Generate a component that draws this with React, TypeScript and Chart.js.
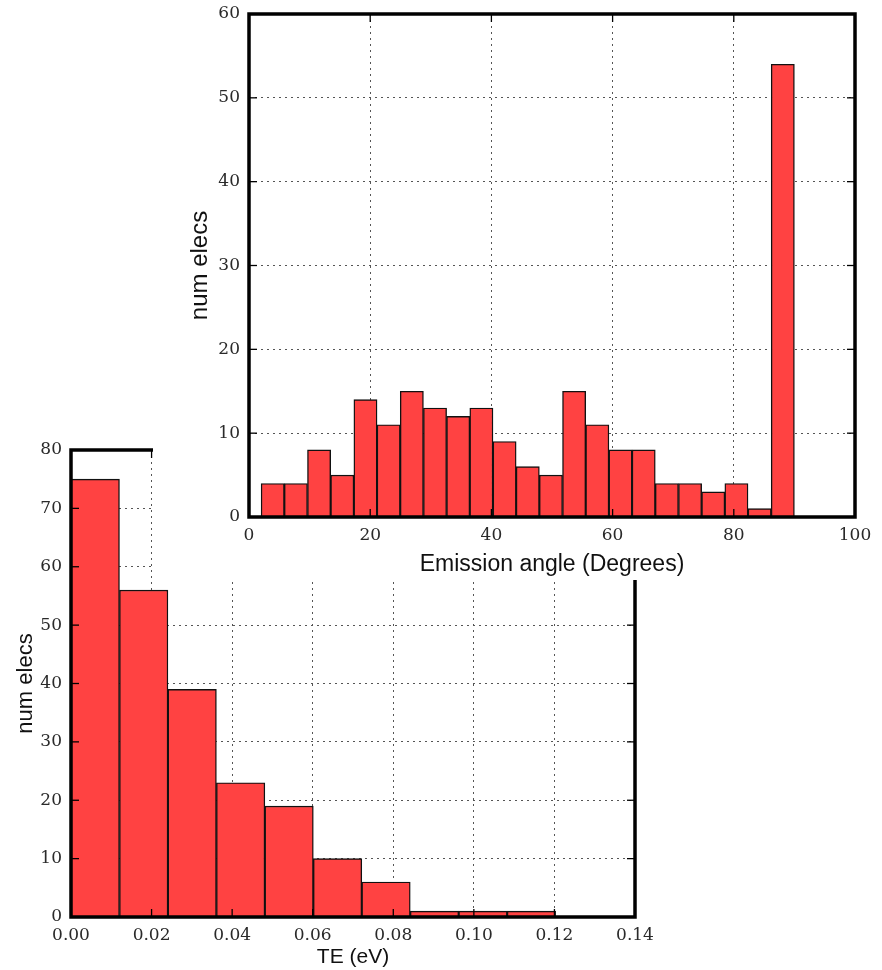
import React, { useEffect, useRef } from "react";
import { Chart, registerables } from "chart.js";

Chart.register(...registerables);

// ---- Emission angle histogram (top chart) ----
const angleBinStart = 2.0;
const angleBinWidth = 3.826;
const angleCounts = [4, 4, 8, 5, 14, 11, 15, 13, 12, 13, 9, 6, 5, 15, 11, 8, 8, 4, 4, 3, 4, 1, 54];
const angleXTicks = [0, 20, 40, 60, 80, 100];
const angleYTicks = [0, 10, 20, 30, 40, 50, 60];

// ---- TE histogram (bottom chart) ----
const teBinStart = 0.0;
const teBinWidth = 0.01203;
const teCounts = [75, 56, 39, 23, 19, 10, 6, 1, 1, 1];
const teXTicks = [0, 0.02, 0.04, 0.06, 0.08, 0.1, 0.12, 0.14];
const teYTicks = [0, 10, 20, 30, 40, 50, 60, 70, 80];

const BAR_FILL = "#ff4242";
const TICK_FONT = { family: "'DejaVu Serif', serif", size: 17 };
const TICK_COLOR = "#2a2a2a";
const GRID_COLOR = "#555";

const framePlugin = {
  id: "frame",
  afterDraw(chart: any) {
    const { ctx, chartArea: a, scales } = chart;
    const xs = scales.x;
    const ys = scales.y;
    const tl = 8;
    ctx.save();
    ctx.strokeStyle = "#000";
    ctx.lineWidth = 1.3;
    const seg = (x1: number, y1: number, x2: number, y2: number) => {
      ctx.beginPath();
      ctx.moveTo(x1, y1);
      ctx.lineTo(x2, y2);
      ctx.stroke();
    };
    xs.ticks.forEach((t: any) => {
      const px = xs.getPixelForValue(t.value);
      if (px <= a.left + 1 || px >= a.right - 1) return;
      seg(px, a.bottom, px, a.bottom - tl);
      seg(px, a.top, px, a.top + tl);
    });
    ys.ticks.forEach((t: any) => {
      const py = ys.getPixelForValue(t.value);
      if (py <= a.top + 1 || py >= a.bottom - 1) return;
      seg(a.left, py, a.left + tl, py);
      seg(a.right, py, a.right - tl, py);
    });
    ctx.lineWidth = 3.5;
    ctx.strokeRect(a.left, a.top, a.right - a.left, a.bottom - a.top);
    ctx.restore();
  },
};

function histData(start: number, width: number, counts: number[]) {
  return counts.map((c, i) => ({ x: start + width * (i + 0.5), y: c }));
}

function makeConfig(opts: {
  data: { x: number; y: number }[];
  xMax: number;
  yMax: number;
  xTicks: number[];
  yTicks: number[];
  xFmt: (v: number) => string;
  xTitle: string;
  yTitle: string;
  xTitleSize: number;
  yTitleSize: number;
  xTitlePad: number;
  yTitlePad: number;
  yWidth: number;
  xHeight: number;
  padding: { left: number; top: number; right: number; bottom: number };
}) {
  return {
    type: "bar" as const,
    data: {
      datasets: [
        {
          data: opts.data,
          backgroundColor: BAR_FILL,
          borderColor: "#111",
          borderWidth: 1.4,
          barPercentage: 1,
          categoryPercentage: 1,
        },
      ],
    },
    options: {
      animation: false,
      responsive: false,
      maintainAspectRatio: false,
      layout: { padding: opts.padding },
      plugins: { legend: { display: false }, tooltip: { enabled: false } },
      scales: {
        x: {
          type: "linear",
          min: 0,
          max: opts.xMax,
          offset: false,
          z: 1,
          afterBuildTicks: (s: any) => {
            s.ticks = opts.xTicks.map((v) => ({ value: v }));
          },
          afterFit: (s: any) => {
            s.height = opts.xHeight;
            s.paddingLeft = 0;
            s.paddingRight = 0;
          },
          ticks: {
            font: TICK_FONT,
            color: TICK_COLOR,
            padding: 8,
            maxRotation: 0,
            autoSkip: false,
            callback: (v: any) => opts.xFmt(Number(v)),
          },
          grid: {
            offset: false,
            color: GRID_COLOR,
            lineWidth: 1,
            drawTicks: false,
          },
          border: { display: false, dash: [2, 4] },
          title: {
            display: true,
            text: opts.xTitle,
            color: "#111",
            font: { family: "'Liberation Sans', Arial, sans-serif", size: opts.xTitleSize },
            padding: { top: 0, bottom: opts.xTitlePad },
          },
        },
        y: {
          type: "linear",
          min: 0,
          max: opts.yMax,
          z: 1,
          afterBuildTicks: (s: any) => {
            s.ticks = opts.yTicks.map((v) => ({ value: v }));
          },
          afterFit: (s: any) => {
            s.width = opts.yWidth;
            s.paddingTop = 0;
            s.paddingBottom = 0;
          },
          ticks: {
            font: TICK_FONT,
            color: TICK_COLOR,
            padding: 9,
            autoSkip: false,
            callback: (v: any) => String(v),
          },
          grid: {
            color: GRID_COLOR,
            lineWidth: 1,
            drawTicks: false,
          },
          border: { display: false, dash: [2, 4] },
          title: {
            display: true,
            text: opts.yTitle,
            color: "#111",
            font: { family: "'Liberation Sans', Arial, sans-serif", size: opts.yTitleSize },
            padding: { top: opts.yTitlePad, bottom: 0 },
          },
        },
      },
    },
    plugins: [framePlugin],
  };
}

function HistChart(props: { w: number; h: number; left: number; top: number; config: any; z: number }) {
  const ref = useRef<HTMLCanvasElement | null>(null);
  useEffect(() => {
    if (!ref.current) return;
    const chart = new Chart(ref.current, props.config);
    return () => chart.destroy();
  }, []);
  return (
    <canvas
      ref={ref}
      width={props.w}
      height={props.h}
      style={{
        position: "absolute",
        left: props.left,
        top: props.top,
        width: props.w,
        height: props.h,
        background: "#fff",
        zIndex: props.z,
      }}
    />
  );
}

export default function App() {
  const teConfig = makeConfig({
    data: histData(teBinStart, teBinWidth, teCounts),
    xMax: 0.14,
    yMax: 80,
    xTicks: teXTicks,
    yTicks: teYTicks,
    xFmt: (v) => v.toFixed(2),
    xTitle: "TE (eV)",
    yTitle: "num elecs",
    xTitleSize: 21,
    yTitleSize: 22,
    xTitlePad: 0,
    yTitlePad: 13,
    yWidth: 71,
    xHeight: 53,
    padding: { left: 0, top: 70, right: 65, bottom: 0 },
  });
  const angleConfig = makeConfig({
    data: histData(angleBinStart, angleBinWidth, angleCounts),
    xMax: 100,
    yMax: 60,
    xTicks: angleXTicks,
    yTicks: angleYTicks,
    xFmt: (v) => String(v),
    xTitle: "Emission angle (Degrees)",
    yTitle: "num elecs",
    xTitleSize: 23,
    yTitleSize: 24,
    xTitlePad: 2,
    yTitlePad: 33,
    yWidth: 96,
    xHeight: 63,
    padding: { left: 0, top: 14, right: 27, bottom: 0 },
  });
  return (
    <div style={{ position: "absolute", left: 0, top: 0, width: 882, height: 970, background: "#fff", overflow: "hidden" }}>
      <HistChart w={700} h={590} left={0} top={380} config={teConfig} z={1} />
      <HistChart w={729} h={580} left={153} top={0} config={angleConfig} z={2} />
    </div>
  );
}
